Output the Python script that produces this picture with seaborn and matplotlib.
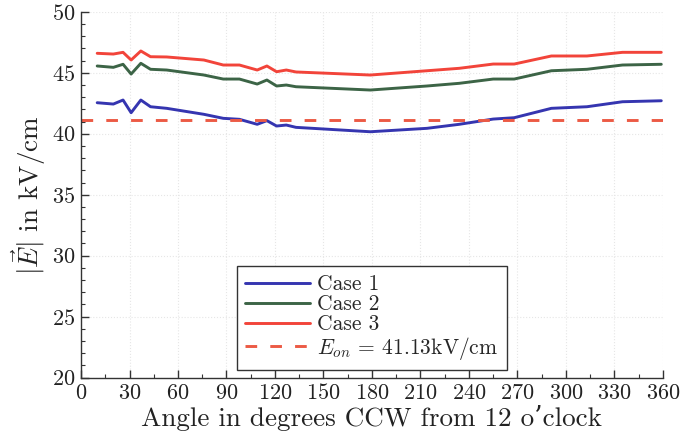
import numpy as np
import pandas as pd
import matplotlib
matplotlib.use("Agg")
import matplotlib.pyplot as plt
import seaborn as sns
from matplotlib.lines import Line2D
from matplotlib.ticker import MultipleLocator

angles = [10, 20, 26, 31, 37, 43, 53, 76, 88, 98, 109, 115, 121, 127, 133,
          179, 214, 234, 255, 268, 291, 313, 335, 359]
case1 = [42.54, 42.43, 42.76, 41.72, 42.76, 42.21, 42.08, 41.59, 41.26, 41.18,
         40.77, 41.07, 40.63, 40.71, 40.52, 40.16, 40.44, 40.77, 41.20, 41.31,
         42.08, 42.21, 42.62, 42.70]
case2 = [45.55, 45.44, 45.69, 44.89, 45.77, 45.28, 45.22, 44.81, 44.48, 44.48,
         44.07, 44.40, 43.91, 43.99, 43.85, 43.58, 43.91, 44.13, 44.48, 44.48,
         45.16, 45.28, 45.63, 45.69]
case3 = [46.59, 46.53, 46.67, 46.04, 46.78, 46.31, 46.29, 46.04, 45.63, 45.63,
         45.22, 45.55, 45.08, 45.22, 45.06, 44.81, 45.16, 45.36, 45.71, 45.71,
         46.37, 46.37, 46.67, 46.67]
e_on = 41.13
series_names = ["Case 1", "Case 2", "Case 3"]
colors = ["#3535b0", "#3c6446", "#f2443a"]
dash_color = "#ec5a45"

df = pd.DataFrame({
    "angle": angles * 3,
    "E": case1 + case2 + case3,
    "series": sum([[n] * len(angles) for n in series_names], []),
})

sns.set_style("ticks")
plt.rcParams["font.family"] = ["cmr10", "DejaVu Serif"]
plt.rcParams["mathtext.fontset"] = "cm"
plt.rcParams["axes.formatter.use_mathtext"] = True

fig = plt.figure(figsize=(6.82, 4.40), dpi=100)
ax = fig.add_axes([0.1188, 0.1416, 0.8532, 0.8318])

sns.lineplot(data=df, x="angle", y="E", hue="series", palette=colors,
             linewidth=2.1, ax=ax, legend=False)
dash = (0, (4, 4.5))
ax.axhline(e_on, color=dash_color, linestyle=dash, linewidth=2.1)

ax.set_xlim(0, 360)
ax.set_ylim(20, 50)
ax.xaxis.set_major_locator(MultipleLocator(30))
ax.xaxis.set_minor_locator(MultipleLocator(15))
ax.yaxis.set_major_locator(MultipleLocator(5))
ax.yaxis.set_minor_locator(MultipleLocator(1))
ax.tick_params(which="both", direction="in", colors="#333333", labelcolor="#222222")
ax.tick_params(which="major", length=6, width=1, labelsize=16, pad=4)
ax.tick_params(which="minor", length=3, width=0.8)
ax.grid(True, which="major", linestyle=":", color="#e6e6e6", linewidth=0.8)
sns.despine(ax=ax)
for s in ["left", "bottom"]:
    ax.spines[s].set_color("#333333")
    ax.spines[s].set_linewidth(1.0)

ax.set_xlabel("Angle in degrees CCW from 12 o\u2019clock", fontsize=19.5, color="#222222", labelpad=1)
ax.set_ylabel(r"$|\vec{E}|$ in kV/cm", fontsize=19.5, color="#222222", labelpad=3)

handles = [Line2D([], [], color=c, linewidth=2.1) for c in colors]
handles.append(Line2D([], [], color=dash_color, linewidth=2.1, linestyle=dash))
labels = series_names + [r"$E_{on}$ = 41.13kV/cm"]
leg = ax.legend(handles, labels, loc="lower center", bbox_to_anchor=(0.5, 0.02),
                fontsize=15.5, frameon=True, fancybox=False, handlelength=3.0,
                labelspacing=0.02, borderpad=0.4, handletextpad=0.35,
                borderaxespad=0.0)
leg.get_frame().set_edgecolor("#333333")
leg.get_frame().set_linewidth(1.0)
leg.get_frame().set_alpha(1.0)

fig.savefig("out.png", dpi=100)
